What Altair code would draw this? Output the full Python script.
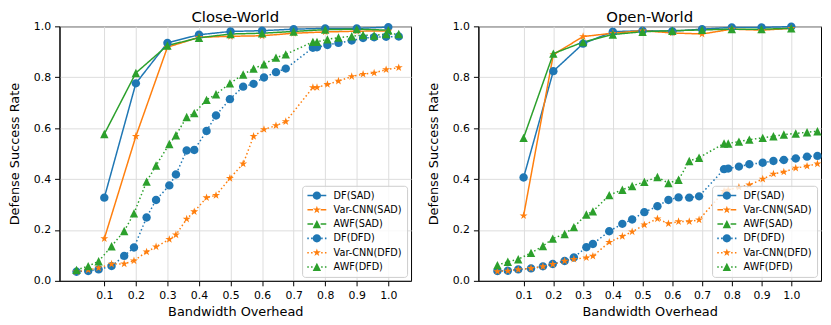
import altair as alt
import pandas as pd

series_names = ["DF(SAD)", "Var-CNN(SAD)", "AWF(SAD)", "DF(DFD)", "Var-CNN(DFD)", "AWF(DFD)"]
series_colors = ["#1f77b4", "#ff7f0e", "#2ca02c", "#1f77b4", "#ff7f0e", "#2ca02c"]

x_ticks = [0.1, 0.2, 0.3, 0.4, 0.5, 0.6, 0.7, 0.8, 0.9, 1.0]
y_ticks = [0.0, 0.2, 0.4, 0.6, 0.8, 1.0]

# ---------------- Close-World ----------------
cw_sad_x = [0.1, 0.2, 0.3, 0.4, 0.5, 0.6, 0.7, 0.8, 0.9, 1.0]
cw_df_sad = [0.327, 0.776, 0.935, 0.967, 0.980, 0.983, 0.989, 0.992, 0.992, 0.997]
cw_varcnn_sad = [0.166, 0.568, 0.918, 0.957, 0.961, 0.963, 0.973, 0.978, 0.981, 0.982]
cw_awf_sad = [0.577, 0.817, 0.925, 0.955, 0.970, 0.973, 0.980, 0.987, 0.989, 0.985]

cw_dfd_x = [0.012, 0.049, 0.082, 0.123, 0.163, 0.194, 0.234, 0.264, 0.306, 0.327,
            0.361, 0.385, 0.424, 0.454, 0.498, 0.540, 0.573, 0.606, 0.644, 0.675,
            0.761, 0.774, 0.807, 0.842, 0.884, 0.920, 0.955, 0.993, 1.033]
cw_df_dfd = [0.036, 0.039, 0.045, 0.058, 0.098, 0.131, 0.249, 0.318, 0.375, 0.418,
             0.512, 0.514, 0.589, 0.650, 0.714, 0.763, 0.774, 0.799, 0.820, 0.834,
             0.916, 0.918, 0.927, 0.935, 0.944, 0.954, 0.957, 0.959, 0.960]
cw_varcnn_dfd = [0.036, 0.043, 0.051, 0.066, 0.067, 0.079, 0.114, 0.134, 0.163, 0.181,
                 0.243, 0.272, 0.327, 0.336, 0.403, 0.460, 0.568, 0.595, 0.610, 0.626,
                 0.760, 0.760, 0.772, 0.785, 0.803, 0.812, 0.817, 0.830, 0.838]
cw_awf_dfd = [0.043, 0.058, 0.077, 0.136, 0.196, 0.265, 0.390, 0.453, 0.538, 0.572,
              0.644, 0.659, 0.711, 0.733, 0.776, 0.811, 0.834, 0.851, 0.877, 0.890,
              0.939, 0.939, 0.949, 0.956, 0.961, 0.966, 0.964, 0.970, 0.970]

# ---------------- Open-World ----------------
ow_sad_x = [0.1, 0.2, 0.3, 0.4, 0.5, 0.6, 0.7, 0.8, 0.9, 1.0]
ow_df_sad = [0.406, 0.824, 0.932, 0.979, 0.983, 0.981, 0.989, 0.996, 0.996, 0.999]
ow_varcnn_sad = [0.256, 0.889, 0.960, 0.973, 0.983, 0.974, 0.970, 0.989, 0.985, 0.992]
ow_awf_sad = [0.562, 0.893, 0.938, 0.968, 0.979, 0.983, 0.986, 0.989, 0.989, 0.992]

ow_dfd_x = [0.012, 0.047, 0.082, 0.125, 0.165, 0.198, 0.238, 0.269, 0.311, 0.333,
            0.388, 0.432, 0.465, 0.506, 0.550, 0.587, 0.621, 0.657, 0.690, 0.774,
            0.788, 0.824, 0.859, 0.904, 0.940, 0.975, 1.015, 1.053, 1.088]
ow_df_dfd = [0.039, 0.040, 0.045, 0.049, 0.057, 0.066, 0.078, 0.092, 0.132, 0.145,
             0.195, 0.224, 0.241, 0.270, 0.293, 0.318, 0.328, 0.327, 0.332, 0.439,
             0.441, 0.449, 0.458, 0.464, 0.471, 0.475, 0.481, 0.488, 0.491]
ow_varcnn_dfd = [0.037, 0.039, 0.044, 0.049, 0.056, 0.065, 0.078, 0.085, 0.091, 0.097,
                 0.152, 0.175, 0.193, 0.220, 0.244, 0.225, 0.233, 0.233, 0.240, 0.352,
                 0.357, 0.368, 0.377, 0.400, 0.420, 0.428, 0.443, 0.451, 0.460]
ow_awf_dfd = [0.062, 0.075, 0.085, 0.110, 0.137, 0.166, 0.184, 0.211, 0.261, 0.273,
              0.337, 0.358, 0.373, 0.389, 0.408, 0.384, 0.397, 0.471, 0.484, 0.540,
              0.540, 0.547, 0.555, 0.562, 0.568, 0.575, 0.579, 0.584, 0.588]

# ---------------- styles ----------------
dash_range = [[1, 0], [1, 0], [1, 0], [1.5, 2.5], [1.5, 2.5], [1.5, 2.5]]

CIRCLE = "M-1,0A1,1 0 1,1 1,0A1,1 0 1,1 -1,0Z"
STAR = ("M0,-1L0.2245,-0.309L0.951,-0.309L0.363,0.118L0.588,0.809L0,0.382"
        "L-0.588,0.809L-0.363,0.118L-0.951,-0.309L-0.2245,-0.309Z")
TRI = "M0,-1L1,1L-1,1Z"
marker_range = [CIRCLE, STAR, TRI, CIRCLE, STAR, TRI]


def rect(x0, x1, h=0.18):
    return f"M{x0},{-h}L{x1},{-h}L{x1},{h}L{x0},{h}Z"


SOLID = rect(-2.24, -0.9) + rect(0.9, 2.24)
DOTTED = rect(-2.28, -1.92) + rect(-1.38, -1.02) + rect(1.02, 1.38) + rect(1.92, 2.28)
legend_range = [SOLID + CIRCLE, SOLID + STAR, SOLID + TRI,
                DOTTED + CIRCLE, DOTTED + STAR, DOTTED + TRI]


def build_df(sad_x, sad_vals, dfd_x, dfd_vals):
    rows = []
    for i, vals in enumerate(sad_vals):
        for xv, yv in zip(sad_x, vals):
            rows.append({"x": xv, "y": yv, "series": series_names[i], "k": i})
    for j, vals in enumerate(dfd_vals):
        for xv, yv in zip(dfd_x, vals):
            rows.append({"x": xv, "y": yv, "series": series_names[3 + j], "k": 3 + j})
    return pd.DataFrame(rows)


def panel(df, title, xdom, width):
    x_enc = alt.X("x:Q", scale=alt.Scale(domain=xdom, nice=False, zero=False),
                  axis=alt.Axis(values=x_ticks, format=".1f", title="Bandwidth Overhead",
                                titlePadding=5, labelPadding=4, titleFontWeight="normal"))
    y_enc = alt.Y("y:Q", scale=alt.Scale(domain=[0, 1], nice=False, zero=False),
                  axis=alt.Axis(values=y_ticks, format=".1f", title="Defense Success Rate",
                                titlePadding=12, titleFontWeight="normal"))
    base = alt.Chart(df)
    lines = base.mark_line(strokeWidth=1.5).encode(
        x=x_enc, y=y_enc,
        color=alt.Color("series:N", scale=alt.Scale(domain=series_names, range=series_colors),
                        legend=None),
        strokeDash=alt.StrokeDash("series:N", scale=alt.Scale(domain=series_names, range=dash_range),
                                  legend=None),
    )
    points = base.mark_point(filled=True, opacity=1, size=72, strokeWidth=0).encode(
        x=x_enc, y=y_enc,
        color=alt.Color("series:N", scale=alt.Scale(domain=series_names, range=series_colors),
                        legend=None),
        shape=alt.Shape("series:N", scale=alt.Scale(domain=series_names, range=marker_range),
                        legend=None),
        order=alt.Order("k:Q"),
    )
    leg = alt.Legend(title=None, orient="bottom-right", offset=4, padding=5, rowPadding=3.4,
                     labelFontSize=9.8, labelFont="DejaVu Sans", labelColor="#000",
                     symbolSize=72, symbolStrokeWidth=0, symbolOpacity=1,
                     symbolOffset=5, labelOffset=12,
                     strokeColor="#cccccc", fillColor="rgba(255,255,255,0.8)",
                     cornerRadius=3)
    legend_layer = base.mark_point(filled=True, opacity=1, size=72).encode(
        x=x_enc, y=y_enc,
        color=alt.Color("series:N", scale=alt.Scale(domain=series_names, range=series_colors),
                        legend=leg),
        shape=alt.Shape("series:N", scale=alt.Scale(domain=series_names, range=legend_range),
                        legend=leg),
    ).transform_filter(alt.datum.x < -100)
    return alt.layer(lines, points, legend_layer).resolve_scale(
        color="independent", shape="independent", strokeDash="independent"
    ).properties(
        width=width, height=257,
        title=alt.TitleParams(text=title, fontSize=15, font="DejaVu Sans",
                              fontWeight="normal", color="#000", anchor="middle", offset=-5),
    )


cw_df = build_df(cw_sad_x, [cw_df_sad, cw_varcnn_sad, cw_awf_sad],
                 cw_dfd_x, [cw_df_dfd, cw_varcnn_dfd, cw_awf_dfd])
ow_df = build_df(ow_sad_x, [ow_df_sad, ow_varcnn_sad, ow_awf_sad],
                 ow_dfd_x, [ow_df_dfd, ow_varcnn_dfd, ow_awf_dfd])

left = panel(cw_df, "Close-World", [-0.042, 1.072], 355)
right = panel(ow_df, "Open-World", [-0.052, 1.10], 346)

chart = alt.hconcat(left, right, spacing=15).resolve_scale(x="independent").properties(
    padding={"left": 0, "top": 0, "right": 0, "bottom": 0}
).configure_axis(
    labelFont="DejaVu Sans", titleFont="DejaVu Sans", labelFontSize=11, titleFontSize=13,
    titleFontWeight="normal", labelColor="#000", titleColor="#000",
    tickColor="#000", domainColor="#000", tickSize=5, labelPadding=4,
    gridColor="#dddddd", gridWidth=1,
).configure_view(stroke="#000", strokeWidth=1)

chart.save("out.html", embed_options={"renderer": "svg", "actions": False})
